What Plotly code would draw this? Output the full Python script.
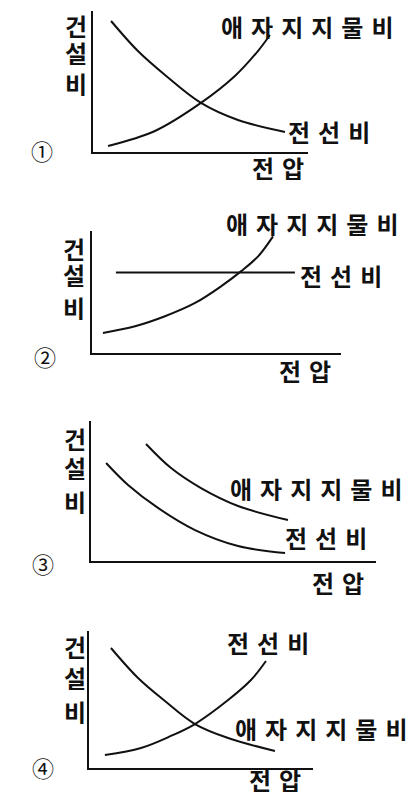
import plotly.graph_objects as go

W, H = 417, 795
FONT = "Noto Sans CJK KR"

# ---------------- data (arbitrary units, 0-10 on each axis) ----------------
# Panel 1
p1_wire_x = [0.84, 2.09, 3.35, 5.02, 6.74, 8.93]
p1_wire_y = [9.29, 7.16, 5.46, 3.48, 2.27, 1.42]
p1_ins_x = [0.70, 2.88, 5.02, 6.60, 7.67, 8.23]
p1_ins_y = [0.43, 1.49, 3.48, 5.39, 7.16, 8.30]
# Panel 2
p2_ins_x = [0.44, 1.73, 2.93, 4.14, 5.18, 5.98, 6.67, 7.27]
p2_ins_y = [1.64, 2.19, 3.01, 4.10, 5.46, 6.69, 7.92, 9.56]
p2_wire_x = [0.96, 8.15]
p2_wire_y = [6.6, 6.6]
# Panel 3
p3_ins_x = [1.93, 2.81, 3.86, 5.16, 6.91]
p3_ins_y = [8.36, 6.64, 5.21, 3.93, 2.93]
p3_wire_x = [0.53, 1.30, 2.35, 3.65, 5.16, 6.81]
p3_wire_y = [7.00, 5.43, 3.79, 2.21, 1.07, 0.57]
# Panel 4
p4_dec_x = [0.98, 2.19, 3.39, 4.73, 6.21, 8.30]
p4_dec_y = [8.76, 6.57, 4.89, 3.21, 2.19, 1.24]
p4_inc_x = [0.71, 2.32, 3.66, 4.73, 6.21, 7.23, 7.90]
p4_inc_y = [0.95, 1.46, 2.34, 3.21, 4.96, 6.42, 7.81]

panel_numbers = ["①", "②", "③", "④"]
y_title_chars = ["건", "설", "비"]
SP = "\u2004"
x_title = SP.join("전압")
ins_label = SP.join("애자지지물비")
wire_label = SP.join("전선비")

# ---------------- layout helpers ----------------
def fx(p):
    return p / W

def fy(p):
    return 1 - p / H

# panel axis boxes in pixels: (left, right, top, bottom)
boxes = [(85, 300, 3, 144), (84, 333, 223, 345), (83, 368, 413, 553), (81, 305, 623, 760)]

fig = go.Figure()

series = [
    [(p1_wire_x, p1_wire_y), (p1_ins_x, p1_ins_y)],
    [(p2_ins_x, p2_ins_y), (p2_wire_x, p2_wire_y)],
    [(p3_ins_x, p3_ins_y), (p3_wire_x, p3_wire_y)],
    [(p4_dec_x, p4_dec_y), (p4_inc_x, p4_inc_y)],
]

layout = dict(
    width=W, height=H, margin=dict(l=0, r=0, t=0, b=0),
    paper_bgcolor="white", plot_bgcolor="white", showlegend=False,
)

for i, (box, ser) in enumerate(zip(boxes, series)):
    n = "" if i == 0 else str(i + 1)
    l, r, t, b = box
    for xs, ys in ser:
        fig.add_trace(go.Scatter(
            x=xs, y=ys, mode="lines", line=dict(color="#111", width=2, shape="spline"),
            xaxis="x" + n, yaxis="y" + n, hoverinfo="skip", cliponaxis=False,
        ))
    axcommon = dict(range=[0, 10], showgrid=False, zeroline=False, showticklabels=False,
                    ticks="", showline=True, linecolor="#111", linewidth=2, fixedrange=True)
    layout["xaxis" + n] = dict(domain=[fx(l), fx(r)], anchor="y" + n, **axcommon)
    layout["yaxis" + n] = dict(domain=[fy(b), fy(t)], anchor="x" + n, **axcommon)

fig.update_layout(**layout)

DY = -2  # glyph vertical offset compensation
# text placements (pixels): (text, x, y, xanchor, size, weight)
texts = [
    (panel_numbers[0], 34, 144, "center", 22, 400),
    (ins_label, 211, 20, "left", 24, 600),
    (wire_label, 278, 125, "left", 24, 600),
    (x_title, 270, 161, "center", 24, 600),

    (panel_numbers[1], 37, 350, "center", 22, 400),
    (ins_label, 216, 217, "left", 24, 600),
    (wire_label, 290, 269, "left", 24, 600),
    (x_title, 297, 364, "center", 24, 600),

    (panel_numbers[2], 35, 557, "center", 22, 400),
    (ins_label, 220, 482, "left", 24, 600),
    (wire_label, 275, 531, "left", 24, 600),
    (x_title, 330, 576, "center", 24, 600),

    (panel_numbers[3], 35, 761, "center", 22, 400),
    (wire_label, 217, 636, "left", 24, 600),
    (ins_label, 225, 722, "left", 24, 600),
    (x_title, 267, 773, "center", 24, 600),
]
# vertical y titles: (x, [y centers])
ytitles = [(68, [19, 46, 77]), (66, [242, 268, 301]), (67, [432, 461, 495]), (67, [640, 671, 705])]
for x, ys in ytitles:
    for ch, y in zip(y_title_chars, ys):
        texts.append((ch, x, y, "center", 24, 600))

for txt, x, y, xa, size, wt in texts:
    fig.add_annotation(text=txt, x=fx(x), y=fy(y + DY), xref="paper", yref="paper",
                       xanchor=xa, yanchor="middle", showarrow=False, height=26,
                       font=dict(family=FONT, size=size, color="#111", weight=wt))

fig.write_html("out.html")
